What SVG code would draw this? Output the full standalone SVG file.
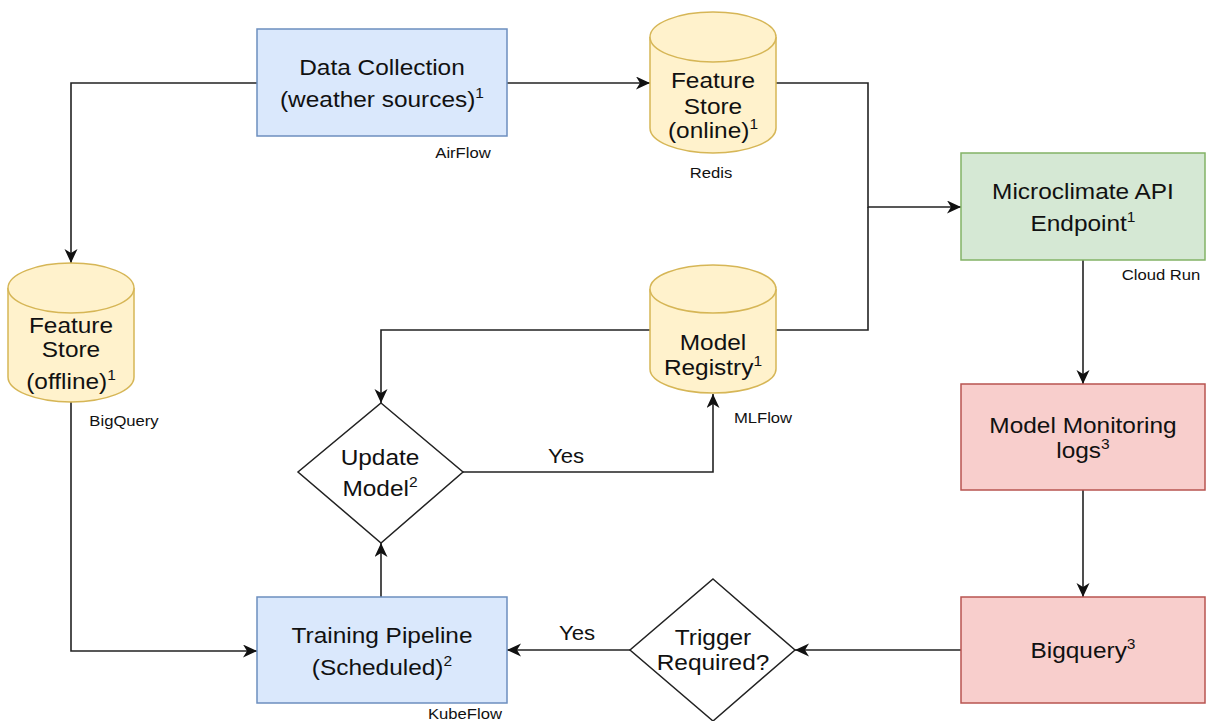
<svg xmlns="http://www.w3.org/2000/svg" width="1209" height="721" viewBox="0 0 1209 721">
<style>
text{font-family:"Liberation Sans",Arial,Helvetica,sans-serif;fill:#111;text-anchor:middle}
.m{font-size:22px}
.s{font-size:15px}
.y{font-size:20px}
.sup{font-size:14px}
.blue{fill:#dae8fc;stroke:#6c8ebf;stroke-width:1.5}
.yel{fill:#fff2cc;stroke:#d6b656;stroke-width:1.5}
.grn{fill:#d5e8d4;stroke:#82b366;stroke-width:1.5}
.red{fill:#f8cecc;stroke:#b85450;stroke-width:1.5}
.dia{fill:#ffffff;stroke:#222;stroke-width:1.5}
.c{fill:none;stroke:#222;stroke-width:1.6}
.a{marker-end:url(#arr)}
</style>
<defs>
<marker id="arr" markerUnits="userSpaceOnUse" markerWidth="16" markerHeight="14" refX="14" refY="6.5" orient="auto">
<path d="M0,0 L14,6.5 L0,13 L4,6.5 Z" fill="#111"/>
</marker>
</defs>
<rect width="1209" height="721" fill="#ffffff"/>

<g id="connectors">
<path class="c a" d="M257,83 H71 V263"/>
<path class="c a" d="M507,83 H650"/>
<path class="c a" d="M776,83 H868 V207 H961"/>
<path class="c" d="M776,330 H868 V207"/>
<path class="c a" d="M650,330 H381 V403"/>
<path class="c a" d="M463,472 H713 V394"/>
<path class="c a" d="M381,597 V543"/>
<path class="c a" d="M71,402 V651 H257"/>
<path class="c a" d="M1083,260 V384"/>
<path class="c a" d="M1083,490 V597"/>
<path class="c a" d="M961,650 H795"/>
<path class="c a" d="M630,650 H507"/>
<g transform="translate(566,0) scale(1.11,1)"><text class="y" x="0" y="463">Yes</text></g>
<g transform="translate(577,0) scale(1.11,1)"><text class="y" x="0" y="640">Yes</text></g>
</g>

<g id="data-collection">
<rect class="blue" x="257" y="29" width="250" height="107"/>
<g transform="translate(382,0) scale(1.11,1)">
<text class="m" x="0" y="75">Data Collection</text>
<text class="m" x="0" y="107">(weather sources)<tspan class="sup" dy="-9">1</tspan></text>
</g>
<g transform="translate(463,0) scale(1.11,1)"><text class="s" x="0" y="158">AirFlow</text></g>
</g>

<g id="feature-store-online">
<path class="yel" d="M650,37 A63,25 0 0 1 776,37 V128 A63,25 0 0 1 650,128 Z"/>
<path class="yel" d="M650,37 A63,25 0 0 0 776,37" fill="none"/>
<g transform="translate(713,0) scale(1.11,1)">
<text class="m" x="0" y="88">Feature</text>
<text class="m" x="0" y="114">Store</text>
<text class="m" x="0" y="138">(online)<tspan class="sup" dy="-9">1</tspan></text>
</g>
<g transform="translate(711,0) scale(1.11,1)"><text class="s" x="0" y="178">Redis</text></g>
</g>

<g id="feature-store-offline">
<path class="yel" d="M8,288 A63,25 0 0 1 134,288 V377 A63,25 0 0 1 8,377 Z"/>
<path class="yel" d="M8,288 A63,25 0 0 0 134,288" fill="none"/>
<g transform="translate(71,0) scale(1.11,1)">
<text class="m" x="0" y="333">Feature</text>
<text class="m" x="0" y="357">Store</text>
<text class="m" x="0" y="389">(offline)<tspan class="sup" dy="-9">1</tspan></text>
</g>
<g transform="translate(124,0) scale(1.11,1)"><text class="s" x="0" y="426">BigQuery</text></g>
</g>

<g id="model-registry">
<path class="yel" d="M650,289 A63,24 0 0 1 776,289 V369 A63,24 0 0 1 650,369 Z"/>
<path class="yel" d="M650,289 A63,24 0 0 0 776,289" fill="none"/>
<g transform="translate(713,0) scale(1.11,1)">
<text class="m" x="0" y="350">Model</text>
<text class="m" x="0" y="375">Registry<tspan class="sup" dy="-9">1</tspan></text>
</g>
<g transform="translate(763,0) scale(1.11,1)"><text class="s" x="0" y="423">MLFlow</text></g>
</g>

<g id="microclimate-api">
<rect class="grn" x="961" y="153" width="244" height="107"/>
<g transform="translate(1083,0) scale(1.11,1)">
<text class="m" x="0" y="199">Microclimate API</text>
<text class="m" x="0" y="231">Endpoint<tspan class="sup" dy="-9">1</tspan></text>
</g>
<g transform="translate(1161,0) scale(1.11,1)"><text class="s" x="0" y="280">Cloud Run</text></g>
</g>

<g id="model-monitoring">
<rect class="red" x="961" y="384" width="244" height="106"/>
<g transform="translate(1083,0) scale(1.11,1)">
<text class="m" x="0" y="433">Model Monitoring</text>
<text class="m" x="0" y="458">logs<tspan class="sup" dy="-9">3</tspan></text>
</g>
</g>

<g id="bigquery">
<rect class="red" x="961" y="597" width="244" height="106"/>
<g transform="translate(1083,0) scale(1.11,1)">
<text class="m" x="0" y="658">Bigquery<tspan class="sup" dy="-9">3</tspan></text>
</g>
</g>

<g id="update-model">
<path class="dia" d="M381,403 L463,472 L381,543 L298,472 Z"/>
<g transform="translate(380,0) scale(1.11,1)">
<text class="m" x="0" y="465">Update</text>
<text class="m" x="0" y="496">Model<tspan class="sup" dy="-9">2</tspan></text>
</g>
</g>

<g id="trigger-required">
<path class="dia" d="M713,579 L795,650 L713,721 L630,650 Z"/>
<g transform="translate(713,0) scale(1.11,1)">
<text class="m" x="0" y="645">Trigger</text>
<text class="m" x="0" y="670">Required?</text>
</g>
</g>

<g id="training-pipeline">
<rect class="blue" x="257" y="597" width="250" height="106"/>
<g transform="translate(382,0) scale(1.11,1)">
<text class="m" x="0" y="643">Training Pipeline</text>
<text class="m" x="0" y="675">(Scheduled)<tspan class="sup" dy="-9">2</tspan></text>
</g>
<g transform="translate(465,0) scale(1.11,1)"><text class="s" x="0" y="719">KubeFlow</text></g>
</g>
</svg>
